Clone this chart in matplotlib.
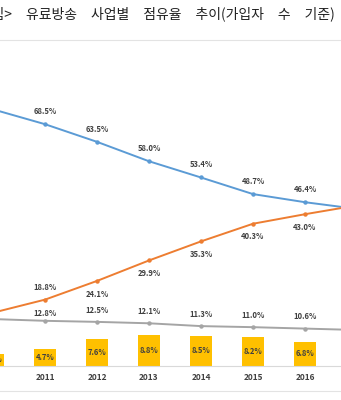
import matplotlib
matplotlib.use('Agg')
import matplotlib.pyplot as plt
import numpy as np

plt.rcParams['font.family'] = ['Noto Sans CJK KR', 'DejaVu Sans']

years = ['2010', '2011', '2012', '2013', '2014', '2015', '2016', '2017']
cable = [72.7, 68.5, 63.5, 58.0, 53.4, 48.7, 46.4, 44.5]
iptv = [15.1, 18.8, 24.1, 29.9, 35.3, 40.3, 43.0, 45.5]
satellite = [13.3, 12.8, 12.5, 12.1, 11.3, 11.0, 10.6, 10.2]
bar_vals = [3.4, 4.7, 7.6, 8.8, 8.5, 8.2, 6.8, 5.5]

title_words = ['<그림>', '유료방송', '사업별', '점유율', '추이(가입자', '수', '기준)']

c_blue = '#5B9BD5'
c_orange = '#ED7D31'
c_gray = '#A5A5A5'
c_gold = '#FFC000'
c_text = '#404040'

fig = plt.figure(figsize=(3.41, 4.0), dpi=100)
ax = fig.add_axes([0, 0.085, 1, 0.815])
x = np.arange(len(years))

ax.bar(x, bar_vals, width=0.41, color=c_gold, zorder=2)
for xi, v in zip(x, bar_vals):
    ax.text(xi, v / 2, f'{v:.1f}%', ha='center', va='center', fontsize=5.5,
            fontweight='bold', color=c_text, zorder=5)

ax.plot(x, cable, color=c_blue, lw=1.4, marker='o', ms=2.2, zorder=3)
ax.plot(x, iptv, color=c_orange, lw=1.4, marker='o', ms=2.2, zorder=3)
ax.plot(x, satellite, color=c_gray, lw=1.4, marker='o', ms=2.2, zorder=3)

lab_kw = dict(ha='center', va='center', fontsize=5.5, fontweight='bold', color=c_text, zorder=5)
for i, v in enumerate(cable):
    ax.annotate(f'{v:.1f}%', (x[i], v), xytext=(0, 9), textcoords='offset points', **lab_kw)
for i, v in enumerate(iptv):
    dy = 8.5 if i < 2 else -9.5
    ax.annotate(f'{v:.1f}%', (x[i], v), xytext=(0, dy), textcoords='offset points', **lab_kw)
for i, v in enumerate(satellite):
    dy = -8 if i == 0 else (5.5 if i == 1 else 8.5)
    ax.annotate(f'{v:.1f}%', (x[i], v), xytext=(0, dy), textcoords='offset points', **lab_kw)

ax.set_xticks(x)
ax.set_xticklabels(years, fontsize=6, fontweight='bold', color=c_text)
ax.set_xlim(1 - 45 / 52, 6 + 36 / 52)
ax.set_ylim(0, 326 / 3.53)
ax.tick_params(axis='x', length=0, pad=5)
ax.set_yticks([])
for s in ['top', 'left', 'right']:
    ax.spines[s].set_visible(False)
ax.spines['bottom'].set_color('#D9D9D9')
ax.spines['bottom'].set_linewidth(0.8)

# chart frame border lines
fig.add_artist(plt.Line2D([0, 1], [0.9, 0.9], color='#E3E3E3', lw=0.8))
fig.add_artist(plt.Line2D([0, 1], [0.022, 0.022], color='#E3E3E3', lw=0.8))

# title, cropped on both sides like the source image
title = '\u2002\u2002'.join(title_words)
fig.text(-29 / 341, 1 - 14 / 400, title, ha='left', va='center', fontsize=10, color='#222222')

fig.savefig('out.png', dpi=100)
